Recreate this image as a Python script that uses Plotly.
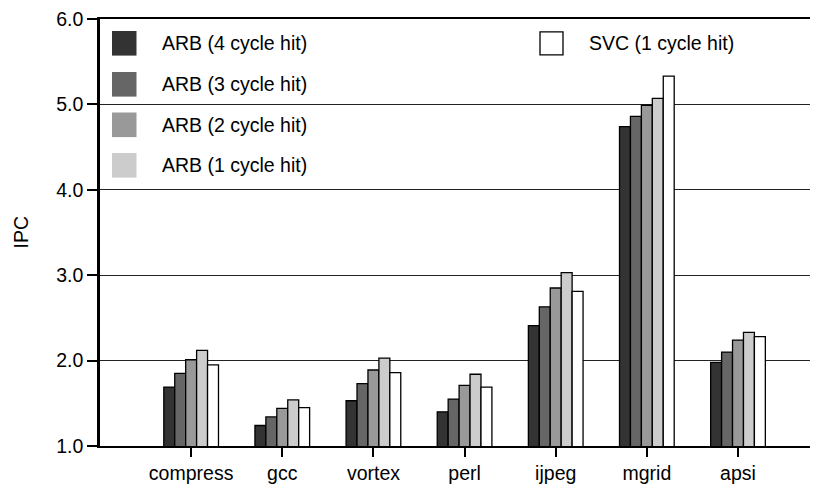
import plotly.graph_objects as go

categories = ["compress", "gcc", "vortex", "perl", "ijpeg", "mgrid", "apsi"]
series_names = ["ARB (4 cycle hit)", "ARB (3 cycle hit)", "ARB (2 cycle hit)",
                "ARB (1 cycle hit)", "SVC (1 cycle hit)"]
arb4 = [1.69, 1.24, 1.53, 1.40, 2.41, 4.74, 1.98]
arb3 = [1.85, 1.34, 1.73, 1.55, 2.63, 4.86, 2.10]
arb2 = [2.01, 1.44, 1.89, 1.71, 2.85, 4.99, 2.24]
arb1 = [2.12, 1.54, 2.03, 1.84, 3.03, 5.07, 2.33]
svc1 = [1.95, 1.45, 1.86, 1.69, 2.81, 5.33, 2.28]
colors = ["#333333", "#666666", "#999999", "#cccccc", "#ffffff"]
y_ticks = [1.0, 2.0, 3.0, 4.0, 5.0, 6.0]

W, H = 820, 488
ml, mr, mt, mb = 100, 10, 19, 42
pw, ph = W - ml - mr, H - mt - mb
FS = 19.5

fig = go.Figure()
for name, vals, col in zip(series_names, [arb4, arb3, arb2, arb1, svc1], colors):
    fig.add_trace(go.Bar(
        x=list(range(len(categories))), y=vals, name=name, base=0,
        marker=dict(color=col, line=dict(color="black", width=1.3)),
    ))

font = "Arial, Liberation Sans, Helvetica, sans-serif"

def px(x):
    return (x - ml) / pw

def py(y):
    return 1 - (y - mt) / ph

shapes = []
annotations = []
legend_rows = [43.3, 84.3, 124.8, 165.3]
for i in range(4):
    yc = legend_rows[i]
    shapes.append(dict(type="rect", xref="paper", yref="paper",
                       x0=px(112), x1=px(136.5), y0=py(yc - 12.3), y1=py(yc + 12.3),
                       fillcolor=colors[i], line=dict(width=0)))
    annotations.append(dict(xref="paper", yref="paper", x=px(160), y=py(yc),
                            text=series_names[i], showarrow=False,
                            xanchor="left", yanchor="middle",
                            font=dict(family=font, size=FS, color="black")))
shapes.append(dict(type="rect", xref="paper", yref="paper",
                   x0=px(540), x1=px(563), y0=py(43.3 - 11.5), y1=py(43.3 + 11.5),
                   fillcolor="white", line=dict(color="black", width=1.3)))
annotations.append(dict(xref="paper", yref="paper", x=px(587), y=py(43.3),
                        text=series_names[4], showarrow=False,
                        xanchor="left", yanchor="middle",
                        font=dict(family=font, size=FS, color="black")))
annotations.append(dict(xref="paper", yref="paper", x=px(20), y=py(232.5),
                        text="IPC", showarrow=False, textangle=-90,
                        xanchor="center", yanchor="middle",
                        font=dict(family=font, size=FS, color="black")))

fig.update_layout(
    template="none",
    width=W, height=H,
    margin=dict(l=ml, r=mr, t=mt, b=mb, pad=0, autoexpand=False),
    paper_bgcolor="white", plot_bgcolor="white",
    barmode="group", bargap=0.4, bargroupgap=0,
    showlegend=False,
    shapes=shapes, annotations=annotations,
    font=dict(family=font, size=FS, color="black"),
    xaxis=dict(
        range=[-1, 6.79], tickmode="array",
        tickvals=list(range(len(categories))), ticktext=categories,
        showline=True, linecolor="black", linewidth=2, mirror=True,
        ticks="outside", ticklen=9, tickwidth=1.5, tickcolor="black",
        showgrid=False, zeroline=False, automargin=False,
        tickfont=dict(family=font, size=FS, color="black"),
    ),
    yaxis=dict(
        range=[1, 6], tickmode="array", tickvals=y_ticks,
        ticktext=["%.1f" % v for v in y_ticks],
        showline=True, linecolor="black", linewidth=2.5,
        ticks="outside", ticklen=10, tickwidth=1.5, tickcolor="black",
        showgrid=True, gridcolor="#222222", gridwidth=1, zeroline=False,
        automargin=False,
        tickfont=dict(family=font, size=FS, color="black"),
    ),
)

fig.write_html("out.html", config={"displayModeBar": False},
               post_script="document.body.style.margin='0px';")
